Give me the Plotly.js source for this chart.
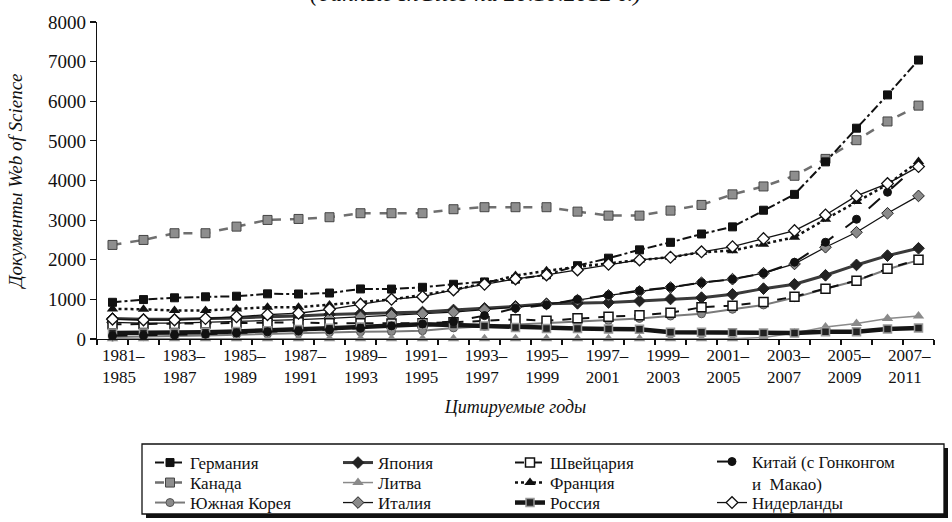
<!DOCTYPE html>
<html><head><meta charset="utf-8">
<script src="https://cdn.plot.ly/plotly-3.0.1.min.js"></script>
<style>html,body{margin:0;padding:0;background:#fff}#chart{width:952px;height:522px}</style>
</head><body><div id="chart"></div>
<script>
const periods = ["1981–1985","1982–1986","1983–1987","1984–1988","1985–1989","1986–1990","1987–1991","1988–1992","1989–1993","1990–1994","1991–1995","1992–1996","1993–1997","1994–1998","1995–1999","1996–2000","1997–2001","1998–2002","1999–2003","2000–2004","2001–2005","2002–2006","2003–2007","2004–2008","2005–2009","2006–2010","2007–2011"];

const germany     = [926,995,1040,1065,1080,1140,1136,1160,1263,1260,1305,1381,1440,1510,1620,1850,2040,2250,2440,2650,2830,3250,3650,4470,5320,6160,7040];
const canada      = [2374,2500,2669,2669,2836,3005,3030,3073,3174,3174,3174,3275,3326,3326,3326,3215,3114,3114,3240,3384,3650,3850,4120,4545,5017,5490,5890];
const southKorea  = [50,60,70,90,110,130,150,170,180,190,210,280,320,360,400,430,470,520,580,636,750,859,1044,1270,1470,1760,1990];
const japan       = [520,500,500,510,530,560,580,620,640,664,680,732,775,825,890,900,920,960,1010,1044,1128,1271,1381,1608,1869,2104,2290];
const lithuania   = [5,5,5,5,5,5,5,5,5,5,5,5,5,5,5,5,5,5,5,5,5,40,150,300,390,520,580];
const italy       = [420,400,400,420,440,470,490,520,560,600,640,680,740,800,880,980,1100,1200,1300,1420,1510,1660,1894,2316,2694,3173,3611];
const switzerland = [370,380,380,390,400,410,420,400,400,390,400,420,450,497,462,522,563,598,664,800,842,934,1068,1271,1473,1776,2003];
const france      = [760,750,720,720,760,800,800,860,930,1000,1110,1240,1406,1600,1720,1820,1910,1995,2063,2190,2230,2390,2568,3022,3467,3900,4477];
const russia      = [150,150,150,170,190,210,240,270,300,340,370,354,328,290,265,262,250,245,172,172,160,152,152,185,185,252,278];
const china       = [80,90,100,120,150,180,200,230,270,330,380,440,590,775,860,1000,1111,1220,1305,1422,1507,1659,1937,2442,3022,3704,4400];
const netherlands = [500,480,480,515,560,615,650,750,876,1002,1068,1237,1381,1515,1616,1742,1886,1995,2063,2200,2330,2533,2735,3131,3611,3922,4351];

const xs = periods.map((p, i) => i);
const tickIdx = xs.filter(i => i % 2 === 0);
const tickLabels = tickIdx.map(i => periods[i].replace("–", "–<br>") + "\u2002");

const L = 97, T = 22, W = 837, H = 317;
const px = v => (v - L) / W;
const py = v => (T + H - v) / H;

const colX = [190, 378, 550, 752];
const rowY = [463, 483, 503];
let legends = {};
let legCount = 0;
function legAt(col, row, multi) {
  legCount++;
  const key = legCount === 1 ? 'legend' : 'legend' + legCount;
  legends[key] = {x: px(colX[col] - 40), xanchor:'left',
                  y: multi ? py(rowY[row] - 19) : py(rowY[row]), yanchor: multi ? 'top' : 'middle',
                  bgcolor:'rgba(0,0,0,0)', borderwidth:0, valign:'top', tracegroupgap:0,
                  font:{family:'Liberation Serif', size:17, color:'#111'}};
  return key;
}

function tr(name, y, line, marker, col, row, multi) {
  return {x: xs, y: y, name: name, type: 'scatter', mode: 'lines+markers',
          line: line, marker: marker, legend: legAt(col, row, multi), cliponaxis: false};
}

const data = [
  tr('Канада', canada, {color:'#6f6f6f', width:2.5, dash:'dash'}, {symbol:'square', size:9, color:'#8e8e8e', line:{color:'#444', width:1}}, 0, 1),
  tr('Германия', germany, {color:'#111', width:2, dash:'dashdot'}, {symbol:'square', size:8, color:'#111', line:{color:'#111', width:1}}, 0, 0),
  tr('Южная Корея', southKorea, {color:'#7a7a7a', width:2}, {symbol:'circle', size:8, color:'#8a8a8a', line:{color:'#555', width:1}}, 0, 2),
  tr('Литва', lithuania, {color:'#8a8a8a', width:1.5}, {symbol:'triangle-up', size:10, color:'#8a8a8a', line:{color:'#8a8a8a', width:0}}, 1, 1),
  tr('Япония', japan, {color:'#3a3a3a', width:3}, {symbol:'diamond', size:9, color:'#222', line:{color:'#222', width:1}}, 1, 0),
  tr('Италия', italy, {color:'#111', width:1.3}, {symbol:'diamond', size:9, color:'#8a8a8a', line:{color:'#222', width:1}}, 1, 2),
  tr('Швейцария', switzerland, {color:'#111', width:2, dash:'dash'}, {symbol:'square', size:9, color:'#fff', line:{color:'#111', width:1.5}}, 2, 0),
  tr('Россия', russia, {color:'#151515', width:4.5}, {symbol:'square', size:8, color:'#222', line:{color:'#999', width:1.5}}, 2, 2),
  tr('Франция', france, {color:'#111', width:2.5, dash:'dot'}, {symbol:'triangle-up', size:10, color:'#111', line:{color:'#111', width:0}}, 2, 1),
  tr('Китай (с Гонконгом<br>и  Макао)', china, {color:'#111', width:2, dash:'longdash'}, {symbol:'circle', size:8, color:'#111', line:{color:'#111', width:1}}, 3, 0, true),
  tr('Нидерланды', netherlands, {color:'#111', width:1.3}, {symbol:'diamond', size:9, color:'#fff', line:{color:'#111', width:1.3}}, 3, 2)
];

const layout = Object.assign({
  width: 952, height: 522,
  margin: {l: L, r: 952 - L - W, t: T, b: 522 - T - H, autoexpand:false},
  paper_bgcolor:'#fff', plot_bgcolor:'#fff',
  xaxis: {range:[-0.5, 26.5], showgrid:false, zeroline:false, showline:true, linecolor:'#111', linewidth:1.3,
          tickmode:'array', tickvals: tickIdx.map(i => i*0.975 + 0.35), ticktext: tickLabels, ticks:'',
          tickfont:{family:'Liberation Serif', size:17, color:'#111'}, automargin:false,
          minor:{tickmode:'array', tickvals: xs.concat([27]).map(i => i - 0.5), ticks:'outside', ticklen:5, tickwidth:1.2, tickcolor:'#111'},
          title:{text:'<i>Цитируемые годы</i>', font:{family:'Liberation Serif', size:18, color:'#111'}, standoff:14}},
  yaxis: {range:[0, 8000], showgrid:false, zeroline:false, showline:true, linecolor:'#111', linewidth:1.3,
          tickmode:'linear', tick0:0, dtick:1000, ticks:'outside', ticklen:6, tickwidth:1.2, tickcolor:'#111',
          tickfont:{family:'Liberation Serif', size:19, color:'#111'}, automargin:false,
          title:{text:'<i>Документы Web of Science</i>', font:{family:'Liberation Serif', size:19, color:'#111'}, standoff:20}},
  showlegend: true,
  shapes: [
    {type:'rect', xref:'paper', yref:'paper', x0:px(146), x1:px(948), y0:py(448), y1:py(518), fillcolor:'#111', line:{width:0}, layer:'below'},
    {type:'rect', xref:'paper', yref:'paper', x0:px(142), x1:px(944), y0:py(444), y1:py(514), fillcolor:'#fff', line:{color:'#111', width:1.3}, layer:'below'}
  ],
  annotations: [
    {xref:'paper', yref:'paper', x:px(475), y:py(-7), xanchor:'center', yanchor:'middle', showarrow:false,
     text:'<i>(данные InCites на 20.10.2012 г.)</i>', font:{family:'Liberation Serif', size:24, color:'#111'}}
  ]
}, legends);
Plotly.newPlot('chart', data, layout, {displayModeBar:false, staticPlot:true});
</script></body></html>
